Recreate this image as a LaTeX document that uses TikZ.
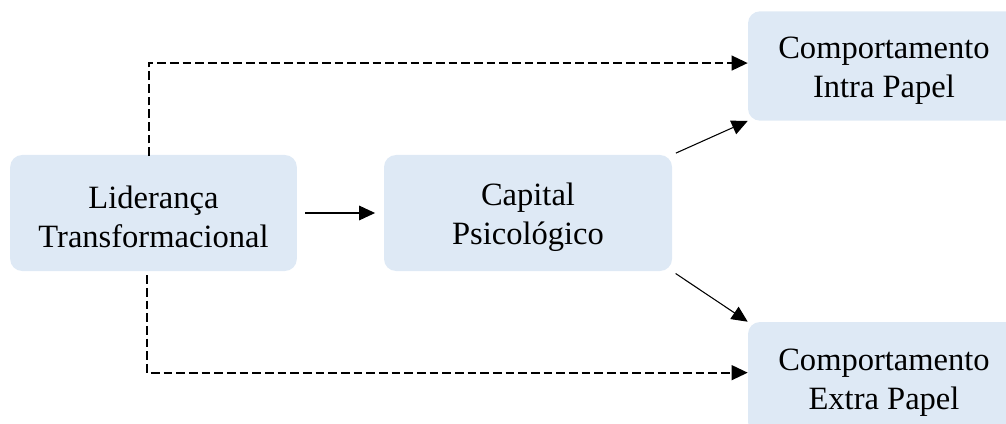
\documentclass[tikz,border=0pt]{standalone}
\usepackage{fontspec}
\setmainfont{Liberation Serif}
\usetikzlibrary{arrows.meta}
\definecolor{boxblue}{RGB}{222,233,245}
\newcommand{\toplift}{\rule{0pt}{23pt}}
\tikzset{
  varbox/.style={fill=boxblue, rounded corners=9pt, inner sep=0pt, align=center,
    font=\fontsize{24.4}{29}\selectfont},
  arr/.style={-{Triangle[length=12pt,width=11pt]}, line width=0.8pt},
  dasharr/.style={arr, line width=1.5pt, dash pattern=on 6.5pt off 3pt}
}

\begin{document}
\begin{tikzpicture}[x=0.75pt,y=-0.75pt]
                % Frame
                \useasboundingbox (0,0) rectangle (1006,424);
                \clip (0,0) rectangle (1006,424);

                % Variables
                \node[varbox, minimum width=215pt, minimum height=87pt] (lid) at (153.5,213) {\toplift Liderança\\Transformacional};
                \node[varbox, minimum width=216pt, minimum height=87pt] (cap) at (528,213) {\toplift Capital\\Psicológico};
                \node[varbox, minimum width=204pt, minimum height=82pt] (intra) at (884,66) {\toplift Comportamento\\Intra Papel};
                \node[varbox, minimum width=204pt, minimum height=84pt] (extra) at (884,378) {\toplift Comportamento\\Extra Papel};

                % Mediation
                \draw[arr, shorten <=6pt, shorten >=6.5pt] (lid) -- (cap);
                \draw[arr, shorten <=3pt] (cap.north east) -- (intra.south west);
                \draw[arr, shorten <=3pt] (cap.south east) -- (extra.north west);

                % Direct effects
                \draw[dasharr] ([xshift=-3.4pt,yshift=-1pt]lid.north) |- ([yshift=2.2pt]intra.west);
                \draw[dasharr] ([xshift=-4.9pt,yshift=-3pt]lid.south) |- ([yshift=4pt]extra.west);
\end{tikzpicture}
\end{document}
